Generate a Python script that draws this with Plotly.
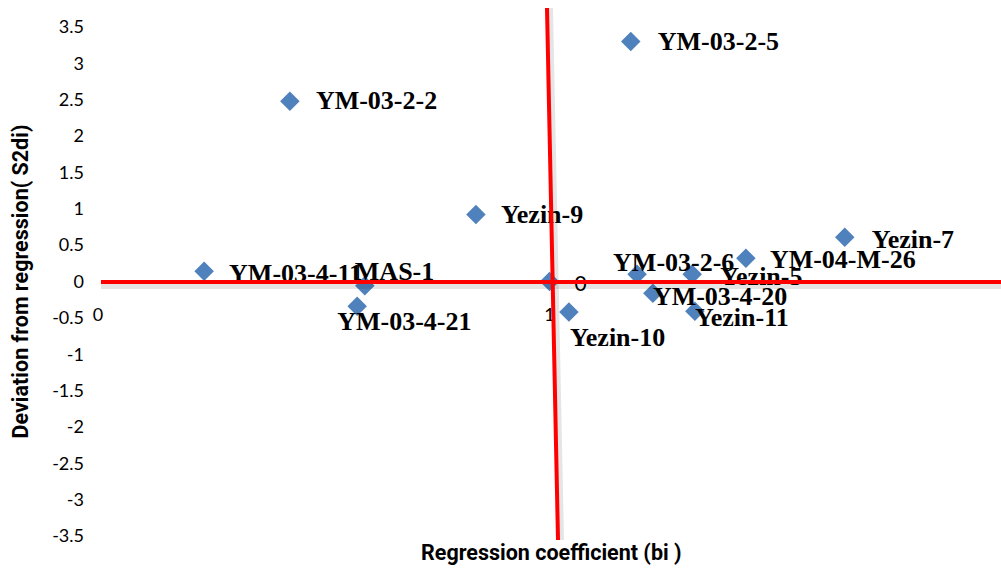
import plotly.graph_objects as go

# Stability parameters for each genotype
genotypes = ["YM-03-2-5", "YM-03-2-2", "Yezin-9", "YM-03-4-11", "MAS-1",
             "YM-03-4-21", "0", "Yezin-10", "YM-03-2-6", "Yezin-5",
             "YM-03-4-20", "Yezin-11", "YM-04-M-26", "Yezin-7"]
bi = [1.180, 0.425, 0.837, 0.235, 0.591,
      0.574, 1.000, 1.043, 1.194, 1.316,
      1.229, 1.322, 1.435, 1.654]
s2di = [3.30, 2.48, 0.92, 0.14, -0.06,
        -0.34, 0.00, -0.42, 0.10, 0.10,
        -0.16, -0.41, 0.32, 0.61]

x_ticks = [0, 1, 2]
y_ticks = [3.5, 3, 2.5, 2, 1.5, 1, 0.5, 0, -0.5, -1, -1.5, -2, -2.5, -3, -3.5]

# label nudges in pixels (right, down) from each marker to the label's left edge
label_nudge = [(27, 2), (26, 1), (25, 2), (25, 4), (-10, -12),
               (-20, 17), (25, 4), (1, 27), (-24, -10), (28, 4),
               (0, 5), (0, 8), (24, 3), (27, 4)]

W, H = 1001, 569
M_L, M_R, M_T, M_B = 98, 0, 27, 33
X_RANGE = [0, 2]
Y_RANGE = [-3.5, 3.5]
px_x = (W - M_L - M_R) / (X_RANGE[1] - X_RANGE[0])
px_y = (H - M_T - M_B) / (Y_RANGE[1] - Y_RANGE[0])

lab_x = [x + dx / px_x for x, (dx, dy) in zip(bi, label_nudge)]
lab_y = [y - dy / px_y for y, (dx, dy) in zip(s2di, label_nudge)]

# the mean point carries a plain sans label, the genotypes a bold serif one
is_mean = [g == "0" for g in genotypes]
lab_family = ["Lato" if m else "Liberation Serif" for m in is_mean]
lab_size = [21 if m else 26 for m in is_mean]
lab_weight = ["normal" if m else "bold" for m in is_mean]

fig = go.Figure()
fig.add_trace(go.Scatter(
    x=bi, y=s2di, mode="markers",
    marker=dict(symbol="diamond", size=15, color="#4F81BD",
                line=dict(width=0)),
    hoverinfo="skip", showlegend=False, cliponaxis=False,
))
fig.add_trace(go.Scatter(
    x=lab_x, y=lab_y, mode="text", text=genotypes,
    textposition="middle right",
    textfont=dict(family=lab_family, size=lab_size, color="#000000", weight=lab_weight),
    hoverinfo="skip", showlegend=False, cliponaxis=False,
))

tick_font = dict(family="Lato", size=18, color="#000000")
bold_font = dict(family="Roboto", size=21.5, color="#000000", weight=700)

fig.update_layout(
    width=W, height=H,
    margin=dict(l=M_L, r=M_R, t=M_T, b=M_B, pad=0),
    paper_bgcolor="white", plot_bgcolor="white",
    xaxis=dict(range=X_RANGE, tickvals=x_ticks, ticktext=[str(v) for v in x_ticks],
               showgrid=False, zeroline=False, showline=False, ticks="",
               anchor="free", position=0.5, ticklabelstandoff=20,
               tickfont=tick_font, fixedrange=True),
    yaxis=dict(range=Y_RANGE, tickvals=y_ticks, ticktext=[f"{v:g}" for v in y_ticks],
               showgrid=False, zeroline=False, showline=False, ticks="",
               ticklabelstandoff=13, tickfont=tick_font, fixedrange=True),
    annotations=[
        dict(text="Deviation from regression( S2di)", xref="paper", yref="paper",
             x=-78 / (W - M_L - M_R), y=0.5, textangle=-90, showarrow=False,
             font=bold_font, xanchor="center", yanchor="middle"),
        dict(text="Regression coefficient (bi )", xref="paper", yref="paper",
             x=(551 - M_L) / (W - M_L - M_R), y=-16 / (H - M_T - M_B),
             showarrow=False, font=bold_font, xanchor="center", yanchor="middle"),
    ],
)

# Reference lines through the mean (bi = 1, S2di = 0), with a soft drop shadow
pw, ph = W - M_L - M_R, H - M_T - M_B
h_line = dict(x0=(101 - M_L) / pw, x1=1.0, y0=(H - M_B - 282) / ph, y1=(H - M_B - 282) / ph)
v_line = dict(x0=(547 - M_L) / pw, x1=(558 - M_L) / pw, y0=(H - M_B - 8) / ph, y1=(H - M_B - 540) / ph)

for ln, (sx, sy) in ((h_line, (0, -3.5)), (v_line, (2.5, 0))):
    fig.add_shape(type="line", xref="paper", yref="paper",
                  x0=ln["x0"] + sx / pw, x1=ln["x1"] + sx / pw,
                  y0=ln["y0"] + sy / ph, y1=ln["y1"] + sy / ph,
                  line=dict(color="rgba(0,0,0,0.10)", width=7), layer="above")
for ln in (h_line, v_line):
    fig.add_shape(type="line", xref="paper", yref="paper",
                  x0=ln["x0"], x1=ln["x1"], y0=ln["y0"], y1=ln["y1"],
                  line=dict(color="#FF0000", width=4), layer="above")

fig.write_html("out.html")
